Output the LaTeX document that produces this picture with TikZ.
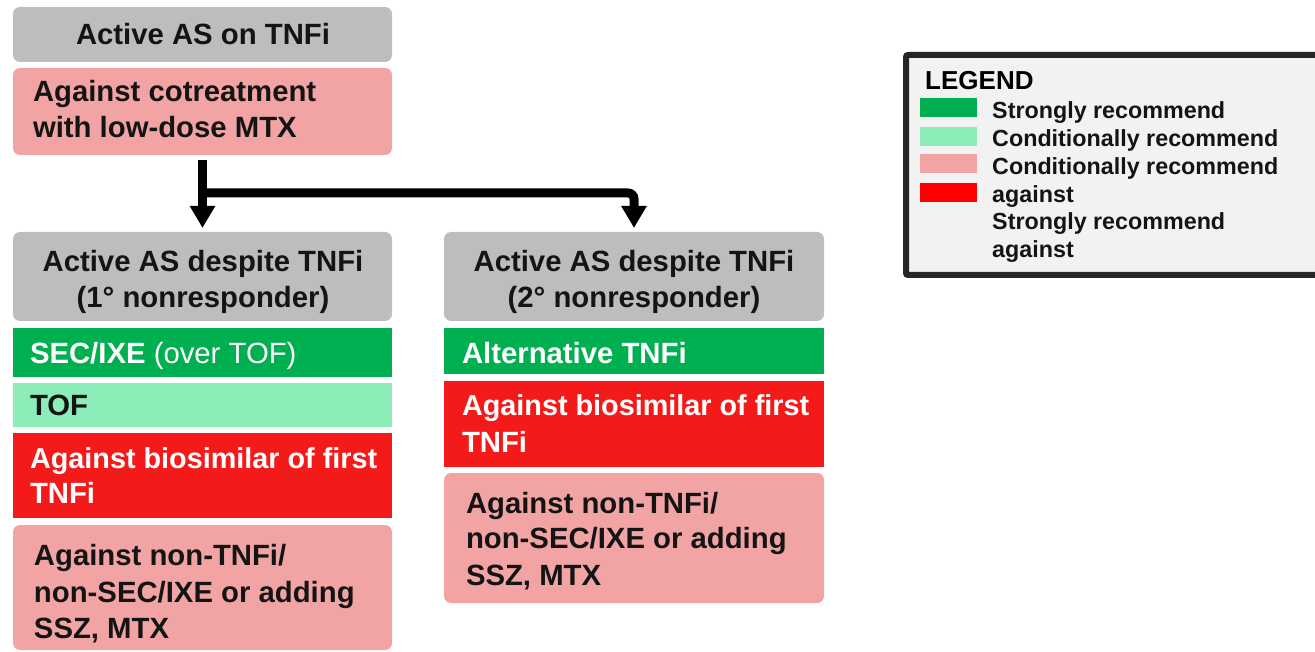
\documentclass[tikz,border=0pt]{standalone}
\usepackage{fontspec}
\setmainfont{Liberation Sans}
\usetikzlibrary{arrows.meta,calc}
\definecolor{hdrgray}{HTML}{BDBDBD}
\definecolor{sgreen}{HTML}{00B050}
\definecolor{cgreen}{HTML}{8CEDB8}
\definecolor{cpink}{HTML}{F2A4A4}
\definecolor{sred}{HTML}{F51A1A}
\definecolor{swred}{HTML}{FF0000}
\definecolor{txtdark}{HTML}{141414}
\definecolor{legfill}{HTML}{F2F2F2}
\definecolor{legborder}{HTML}{262626}
\begin{document}
\begin{tikzpicture}[x=1pt,y=-1pt,
  box/.style={rectangle, inner sep=0pt, outer sep=0pt, draw=none, rounded corners=7pt},
  sqbox/.style={rectangle, inner sep=0pt, outer sep=0pt, draw=none},
  txt/.style={anchor=base west, inner sep=0pt, outer sep=0pt, text=txtdark, font=\fontsize{29.3}{36}\selectfont\bfseries},
  wtxt/.style={txt, text=white},
  ctxt/.style={txt, anchor=base},
  narrow/.style={font=\fontsize{28.8}{36}\selectfont\bfseries},
  legtxt/.style={anchor=base west, inner sep=0pt, text=txtdark, font=\fontsize{23.3}{28}\selectfont\bfseries},
  swatch/.style={rectangle, inner sep=0pt, draw=none, minimum width=57pt, minimum height=19pt},
  conn/.style={line width=9pt, draw=black, -{Triangle[width=24pt,length=22pt]}}
]
\useasboundingbox (0,0) rectangle (1315,652);

% top boxes
\node[box, fill=hdrgray, minimum width=379pt, minimum height=55pt] (hdrTop) at (202.5,34.5) {};
\node[box, fill=cpink, minimum width=379pt, minimum height=87pt] (pinkTop) at (202.5,111.5) {};
\node[ctxt] (tTop) at (203,45) {Active AS on TNFi};
\node[txt] (tTopA) at (33,102) {Against cotreatment};
\node[txt] (tTopB) at (33,138) {with low-dose MTX};

% left column
\node[box, fill=hdrgray, minimum width=379pt, minimum height=89pt] (hdrL) at (202.5,276.5) {};
\node[sqbox, fill=sgreen, minimum width=379pt, minimum height=49pt] (grL) at (202.5,352.5) {};
\node[sqbox, fill=cgreen, minimum width=379pt, minimum height=44pt] (lgL) at (202.5,405) {};
\node[sqbox, fill=sred, minimum width=379pt, minimum height=85pt] (rdL) at (202.5,475.5) {};
\node[box, fill=cpink, minimum width=379pt, minimum height=125pt] (pkL) at (202.5,587.5) {};
\node[ctxt] (tHL1) at (203,272) {Active AS despite TNFi};
\node[ctxt] (tHL2) at (203,308) {(1° nonresponder)};
\node[wtxt] (tGL) at (30,363) {SEC/IXE \mdseries(over TOF)};
\node[txt] (tLGL) at (30,415) {TOF};
\node[wtxt, narrow] (tRL1) at (30,468) {Against biosimilar of first};
\node[wtxt] (tRL2) at (30,503) {TNFi};
\node[txt] (tPL1) at (34,565) {Against non-TNFi/};
\node[txt] (tPL2) at (34,602) {non-SEC/IXE or adding};
\node[txt] (tPL3) at (34,638) {SSZ, MTX};

% right column
\node[box, fill=hdrgray, minimum width=380pt, minimum height=89pt] (hdrR) at (634,276.5) {};
\node[sqbox, fill=sgreen, minimum width=380pt, minimum height=46pt] (grR) at (634,351) {};
\node[sqbox, fill=sred, minimum width=380pt, minimum height=86pt] (rdR) at (634,424) {};
\node[box, fill=cpink, minimum width=380pt, minimum height=130pt] (pkR) at (634,538) {};
\node[ctxt] (tHR1) at (634,272) {Active AS despite TNFi};
\node[ctxt] (tHR2) at (634,308) {(2° nonresponder)};
\node[wtxt] (tGR) at (462,363) {Alternative TNFi};
\node[wtxt, narrow] (tRR1) at (462,415) {Against biosimilar of first};
\node[wtxt] (tRR2) at (462,452) {TNFi};
\node[txt] (tPR1) at (466,513) {Against non-TNFi/};
\node[txt] (tPR2) at (466,548) {non-SEC/IXE or adding};
\node[txt] (tPR3) at (466,585) {SSZ, MTX};

% connectors
\draw[conn, shorten <=5pt, shorten >=4pt] (pinkTop.south) -- (hdrL.north);
\coordinate (split) at (pinkTop.south |- 0,193);
\draw[conn, rounded corners=6pt, shorten >=4pt] (split) -| (hdrR.north);

% legend
\node[rectangle, draw=legborder, line width=6pt, fill=legfill, rounded corners=2pt,
      minimum width=424pt, minimum height=220pt, inner sep=0pt] (legend) at (1118,165) {};
\node[anchor=base west, inner sep=0pt, font=\fontsize{26}{30}\selectfont\bfseries] (legT) at (925,90) {LEGEND};
\node[swatch, fill=sgreen] (sw1) at (948.5,107.5) {};
\node[swatch, fill=cgreen] (sw2) at (948.5,136.5) {};
\node[swatch, fill=cpink] (sw3) at (948.5,163.5) {};
\node[swatch, fill=swred] (sw4) at (948.5,192.5) {};
\node[legtxt] (lg1) at (992,119) {Strongly recommend};
\node[legtxt] (lg2) at (992,147) {Conditionally recommend};
\node[legtxt] (lg3) at (992,175) {Conditionally recommend};
\node[legtxt] (lg4) at (992,203) {against};
\node[legtxt] (lg5) at (992,230) {Strongly recommend};
\node[legtxt] (lg6) at (992,258) {against};
\end{tikzpicture}
\end{document}
